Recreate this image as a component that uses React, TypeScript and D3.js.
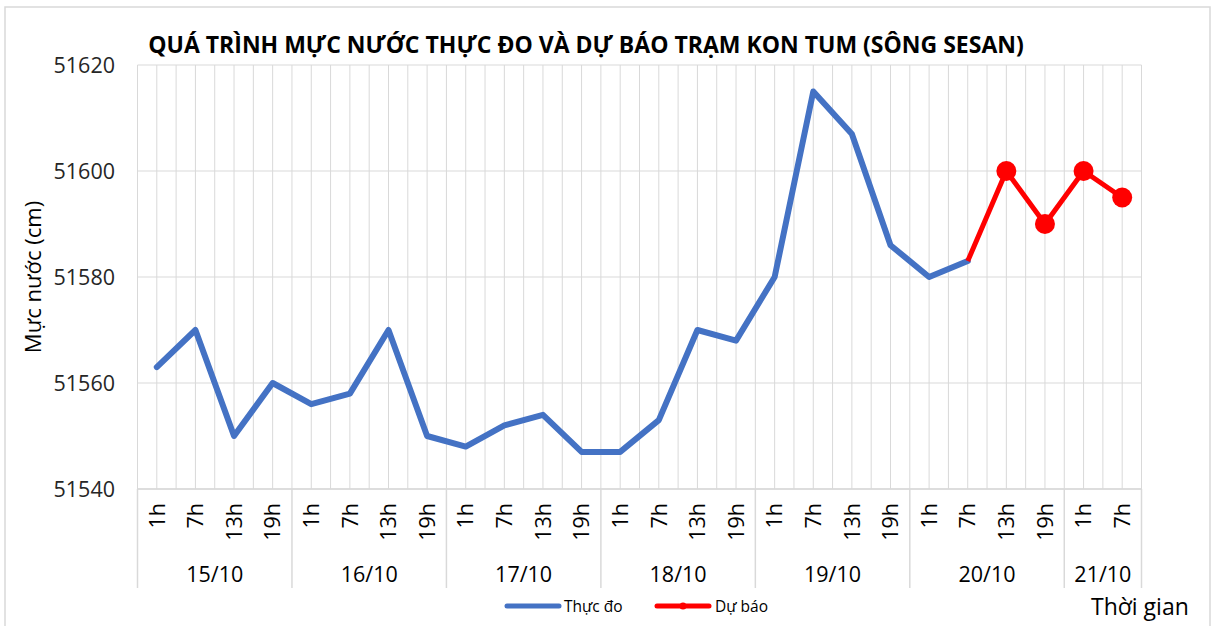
import React from "react";
import * as d3 from "d3";

const hourLabels = [
  "1h", "7h", "13h", "19h",
  "1h", "7h", "13h", "19h",
  "1h", "7h", "13h", "19h",
  "1h", "7h", "13h", "19h",
  "1h", "7h", "13h", "19h",
  "1h", "7h", "13h", "19h",
  "1h", "7h",
];
const dayLabels = ["15/10", "16/10", "17/10", "18/10", "19/10", "20/10", "21/10"];
const dayCounts = [4, 4, 4, 4, 4, 4, 2];

// Thực đo: indices 0..21
const observed = [
  51563, 51570, 51550, 51560,
  51556, 51558, 51570, 51550,
  51548, 51552, 51554, 51547,
  51547, 51553, 51570, 51568,
  51580, 51615, 51607, 51586,
  51580, 51583,
];
// Dự báo: indices 21..25 (first point links to last observation)
const forecastStart = 21;
const forecast = [51583, 51600, 51590, 51600, 51595];

const yTicks = [51540, 51560, 51580, 51600, 51620];

const W = 1212;
const H = 626;
const FONT = "'Open Sans', 'Noto Sans', sans-serif";
const BLUE = "#4472C4";
const RED = "#FF0000";
const GRID = "#D9D9D9";

export default function App() {
  const left = 137.5;
  const right = 1141.5;
  const top = 65;
  const bottom = 489;

  const x = d3
    .scaleBand<number>()
    .domain(hourLabels.map((_, i) => i))
    .range([left, right])
    .padding(0);
  const bw = x.bandwidth();
  const cx = (i: number) => (x(i) as number) + bw / 2;
  const y = d3.scaleLinear().domain([51540, 51620]).range([bottom, top]);

  const line = d3
    .line<number>()
    .x((_, i) => cx(i))
    .y((d) => y(d));
  const fLine = d3
    .line<number>()
    .x((_, i) => cx(i + forecastStart))
    .y((d) => y(d));

  const vLines: number[] = [];
  for (let k = 0; k <= hourLabels.length * 2; k++) vLines.push(left + (k * bw) / 2);

  const bounds: number[] = [left];
  let acc = 0;
  const groups = dayLabels.map((lab, g) => {
    const start = acc;
    acc += dayCounts[g];
    const x0 = x(start) as number;
    const x1 = (x(acc - 1) as number) + bw;
    bounds.push(x1);
    return { lab, mid: (x0 + x1) / 2 };
  });

  return (
    <svg
      width={W}
      height={H}
      style={{ position: "absolute", left: 0, top: 0, background: "#fff" }}
      fontFamily={FONT}
    >
      <rect x={5} y={7} width={1205} height={640} fill="#fff" stroke="#D9D9D9" strokeWidth={1.5} />

      <text x={586} y={53} textAnchor="middle" fontWeight="bold" fontSize={23} fill="#000">
        QUÁ TRÌNH MỰC NƯỚC THỰC ĐO VÀ DỰ BÁO TRẠM KON TUM (SÔNG SESAN)
      </text>

      {vLines.map((vx, i) => (
        <line key={"v" + i} x1={vx} x2={vx} y1={top} y2={bottom} stroke={GRID} strokeWidth={1} />
      ))}
      {yTicks.map((t) => (
        <line key={"h" + t} x1={left} x2={right} y1={y(t)} y2={y(t)} stroke={GRID} strokeWidth={1} />
      ))}

      {yTicks.map((t) => (
        <text key={"yt" + t} x={115} y={y(t)} dy="0.36em" textAnchor="end" fontSize={21.5} fill="#262626">
          {t}
        </text>
      ))}

      <text
        transform={`translate(33,${(top + bottom) / 2}) rotate(-90)`}
        textAnchor="middle"
        dy="0.36em"
        fontSize={22}
        fill="#000"
      >
        Mực nước (cm)
      </text>

      <line x1={left} x2={right} y1={bottom} y2={bottom} stroke={GRID} strokeWidth={1.5} />
      {bounds.map((bx, i) => (
        <line key={"b" + i} x1={bx} x2={bx} y1={bottom} y2={588} stroke={GRID} strokeWidth={1.5} />
      ))}
      {hourLabels.map((h, i) => (
        <text
          key={"c" + i}
          transform={`translate(${cx(i)},503) rotate(-90)`}
          textAnchor="end"
          dy="0.36em"
          fontSize={21.5}
          fill="#000"
        >
          {h}
        </text>
      ))}
      {groups.map((g) => (
        <text key={g.lab} x={g.mid} y={582} textAnchor="middle" fontSize={21.5} fill="#000">
          {g.lab}
        </text>
      ))}

      <path d={line(observed) || ""} fill="none" stroke={BLUE} strokeWidth={6} strokeLinejoin="round" strokeLinecap="round" />
      <path d={fLine(forecast) || ""} fill="none" stroke={RED} strokeWidth={5} strokeLinejoin="round" />
      {forecast.slice(1).map((v, i) => (
        <circle key={"m" + i} cx={cx(i + 1 + forecastStart)} cy={y(v)} r={10} fill={RED} />
      ))}

      <line x1={507} x2={559} y1={606} y2={606} stroke={BLUE} strokeWidth={5} strokeLinecap="round" />
      <text x={564} y={612} fontSize={15.5} fill="#000">Thực  đo</text>
      <line x1={657} x2={709} y1={606} y2={606} stroke={RED} strokeWidth={5} strokeLinecap="round" />
      <circle cx={683} cy={606} r={3.5} fill={RED} />
      <text x={715} y={612} fontSize={15.5} fill="#000">Dự báo</text>

      <text x={1091} y={615} fontSize={23} fill="#000">Thời gian</text>
    </svg>
  );
}
